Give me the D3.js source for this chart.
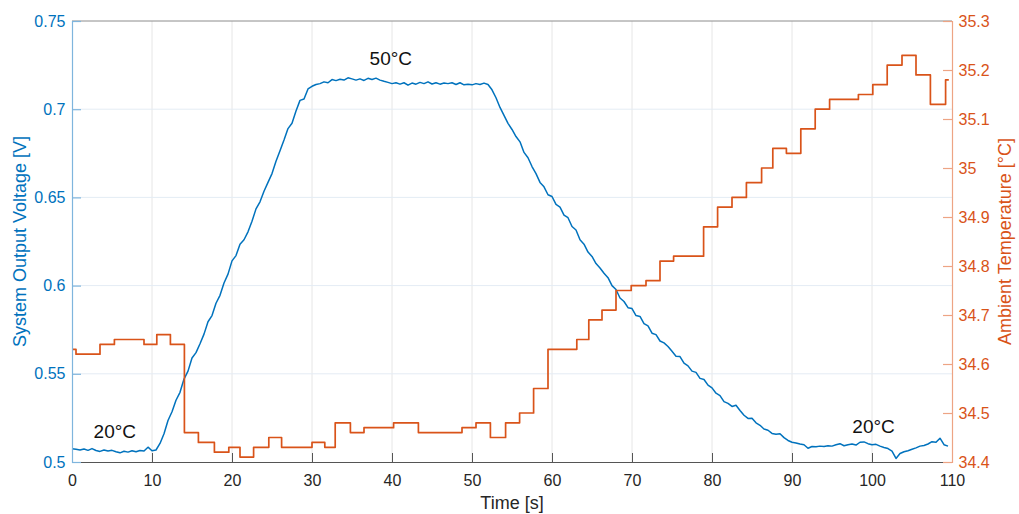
<!DOCTYPE html>
<html>
<head>
<meta charset="utf-8">
<script src="https://cdn.jsdelivr.net/npm/d3@7"></script>
<style>
  body { margin: 0; background: #fff; }
  svg { font-family: "Liberation Sans", Arial, sans-serif; }
</style>
</head>
<body>
<svg class="chart"></svg>
<script>
const size = { w: 1019, h: 514 };
const margin = { top: 21, right: 67, bottom: 52, left: 72 };

// voltage samples, one every 0.5 s starting at t = 0
const sampleStep = 0.5;
const voltage = [
  0.5075, 0.5072, 0.5068, 0.5074, 0.5066, 0.5076, 0.5065, 0.5060, 0.5068, 0.5062,
  0.5066, 0.5058, 0.5052, 0.5061, 0.5056, 0.5064, 0.5058, 0.5065, 0.5062, 0.5084,
  0.5064, 0.5068, 0.5105, 0.5160, 0.5235, 0.5285, 0.5350, 0.5395, 0.5470, 0.5515,
  0.5590, 0.5620, 0.5670, 0.5725, 0.5795, 0.5830, 0.5900, 0.5945, 0.6015, 0.6065,
  0.6140, 0.6170, 0.6235, 0.6260, 0.6305, 0.6365, 0.6435, 0.6475, 0.6535, 0.6585,
  0.6635, 0.6705, 0.6765, 0.6825, 0.6890, 0.6920, 0.6990, 0.7050, 0.7058, 0.7115,
  0.7130, 0.7140, 0.7145, 0.7155, 0.7150, 0.7168, 0.7162, 0.7170, 0.7165, 0.7178,
  0.7172, 0.7165, 0.7172, 0.7163, 0.7175, 0.7168, 0.7176, 0.7165, 0.7158, 0.7152,
  0.7145, 0.7150, 0.7142, 0.7150, 0.7136, 0.7148, 0.7142, 0.7152, 0.7145, 0.7155,
  0.7143, 0.7150, 0.7142, 0.7148, 0.7145, 0.7150, 0.7140, 0.7150, 0.7138, 0.7142,
  0.7138, 0.7145, 0.7140, 0.7148, 0.7140, 0.7110, 0.7065, 0.7010, 0.6965, 0.6920,
  0.6885, 0.6845, 0.6815, 0.6755, 0.6725, 0.6675, 0.6635, 0.6585, 0.6560, 0.6515,
  0.6505, 0.6460, 0.6445, 0.6400, 0.6385, 0.6335, 0.6315, 0.6260, 0.6235, 0.6190,
  0.6165, 0.6125, 0.6100, 0.6070, 0.6045, 0.6000, 0.5978, 0.5930, 0.5910, 0.5875,
  0.5870, 0.5830, 0.5825, 0.5785, 0.5772, 0.5730, 0.5722, 0.5686, 0.5675, 0.5655,
  0.5628, 0.5600, 0.5598, 0.5560, 0.5545, 0.5515, 0.5508, 0.5474, 0.5468, 0.5436,
  0.5420, 0.5390, 0.5376, 0.5342, 0.5332, 0.5315, 0.5322, 0.5292, 0.5265, 0.5247,
  0.5248, 0.5222, 0.5208, 0.5187, 0.5180, 0.5162, 0.5157, 0.5160, 0.5138, 0.5122,
  0.5112, 0.5108, 0.5102, 0.5098, 0.5078, 0.5088, 0.5086, 0.5090, 0.5088, 0.5092,
  0.5090, 0.5098, 0.5104, 0.5092, 0.5098, 0.5102, 0.5096, 0.5112, 0.5114, 0.5104,
  0.5098, 0.5100, 0.5090, 0.5082, 0.5076, 0.5062, 0.5020, 0.5048, 0.5058, 0.5064,
  0.5072, 0.5080, 0.5090, 0.5094, 0.5102, 0.5115, 0.5112, 0.5135, 0.5098, 0.5090
];

// ambient temperature: step changes (time of change, new value)
const tempTimes = [
  0, 0.5, 3.5, 5.3, 9.0, 10.6, 12.3, 14.05, 15.8, 17.8,
  19.6, 21.0, 22.7, 24.6, 26.2, 30.0, 31.6, 32.9, 34.8, 36.5,
  40.2, 43.3, 48.75, 50.5, 52.3, 54.2, 55.95, 57.7, 59.5, 63.1,
  64.6, 66.25, 68.0, 69.9, 71.75, 73.5, 75.2, 78.95, 80.7, 82.5,
  84.3, 86.2, 87.6, 89.3, 91.1, 92.9, 94.7, 98.3, 100.1, 101.9,
  103.75, 105.5, 107.3, 109.2, 109.6
];
const tempValues = [
  34.63, 34.62, 34.64, 34.65, 34.64, 34.66, 34.64, 34.46, 34.44, 34.42,
  34.43, 34.41, 34.43, 34.45, 34.43, 34.44, 34.43, 34.48, 34.46, 34.47,
  34.48, 34.46, 34.47, 34.48, 34.45, 34.48, 34.50, 34.55, 34.63, 34.65,
  34.69, 34.71, 34.75, 34.76, 34.77, 34.81, 34.82, 34.88, 34.92, 34.94,
  34.97, 35.00, 35.04, 35.03, 35.08, 35.12, 35.14, 35.15, 35.17, 35.21,
  35.23, 35.19, 35.13, 35.18, 35.18
];

const xTicks = [0, 10, 20, 30, 40, 50, 60, 70, 80, 90, 100, 110];
const leftTicks = [0.5, 0.55, 0.6, 0.65, 0.7, 0.75];
const rightTicks = [34.4, 34.5, 34.6, 34.7, 34.8, 34.9, 35, 35.1, 35.2, 35.3];

const notes = [
  { t: 5.35, v: 0.5136, label: "20°C" },
  { t: 39.85, v: 0.7249, label: "50°C" },
  { t: 100.2, v: 0.5165, label: "20°C" }
];

const blue = "#0072BD";
const orange = "#D95319";

const svg = d3.select("svg.chart").attr("width", size.w).attr("height", size.h);
const iw = size.w - margin.left - margin.right;
const ih = size.h - margin.top - margin.bottom;
const g = svg.append("g").attr("transform", `translate(${margin.left},${margin.top})`);

const x = d3.scaleLinear().domain([0, 110]).range([0, iw]);
const yL = d3.scaleLinear().domain([0.5, 0.75]).range([ih, 0]);
const yR = d3.scaleLinear().domain([34.4, 35.3]).range([ih, 0]);

// grid
g.append("g")
  .selectAll("line")
  .data(xTicks.slice(1, -1))
  .join("line")
  .attr("x1", (d) => x(d)).attr("x2", (d) => x(d))
  .attr("y1", 0).attr("y2", ih)
  .attr("stroke", "#e6e6e6").attr("stroke-width", 1);
g.append("g")
  .selectAll("line")
  .data(leftTicks.slice(1, -1))
  .join("line")
  .attr("x1", 0).attr("x2", iw)
  .attr("y1", (d) => yL(d)).attr("y2", (d) => yL(d))
  .attr("stroke", "#e4ecf4").attr("stroke-width", 1);

// box top
g.append("line").attr("x1", 0).attr("x2", iw).attr("y1", 0).attr("y2", 0)
  .attr("stroke", "#8c8c8c").attr("stroke-width", 1);

// lines
const voltData = voltage.map((v, i) => [i * sampleStep, v]);
g.append("path")
  .datum(voltData)
  .attr("fill", "none")
  .attr("stroke", blue)
  .attr("stroke-width", 1.5)
  .attr("stroke-linejoin", "round")
  .attr("d", d3.line().x((d) => x(d[0])).y((d) => yL(d[1])));

const tempData = tempTimes.map((t, i) => [t, tempValues[i]]);
g.append("path")
  .datum(tempData)
  .attr("fill", "none")
  .attr("stroke", orange)
  .attr("stroke-width", 1.7)
  .attr("stroke-linejoin", "round")
  .attr("d", d3.line().curve(d3.curveStepAfter).x((d) => x(d[0])).y((d) => yR(d[1])));

// axes
const tickLen = 9;
const xAxis = g.append("g").attr("transform", `translate(0,${ih})`)
  .call(d3.axisBottom(x).tickValues(xTicks).tickSize(-tickLen).tickPadding(12.5).tickFormat(d3.format("d")));
xAxis.select(".domain").attr("stroke", "#555").attr("stroke-width", 1);
xAxis.selectAll(".tick line").attr("stroke", "#555");
xAxis.selectAll("text").attr("fill", "#262626").style("font-size", "16px");

const lAxis = g.append("g")
  .call(d3.axisLeft(yL).tickValues(leftTicks).tickSize(-tickLen).tickPadding(6).tickFormat((d) => String(d)));
lAxis.select(".domain").attr("stroke", "#7fb5dd").attr("stroke-width", 1.2);
lAxis.selectAll(".tick line").attr("stroke", "#7fb5dd").attr("stroke-width", 1.2);
lAxis.selectAll("text").attr("fill", blue).style("font-size", "16px").attr("x", -6.5);

const rAxis = g.append("g").attr("transform", `translate(${iw},0)`)
  .call(d3.axisRight(yR).tickValues(rightTicks).tickSize(-tickLen).tickPadding(6).tickFormat((d) => String(d)));
rAxis.select(".domain").attr("stroke", "#eda484").attr("stroke-width", 1.2);
rAxis.selectAll(".tick line").attr("stroke", "#eda484").attr("stroke-width", 1.2);
rAxis.selectAll("text").attr("fill", orange).style("font-size", "16px").attr("x", 6.5);

// axis titles
g.append("text")
  .attr("x", iw / 2).attr("y", ih + 47)
  .attr("text-anchor", "middle")
  .attr("fill", "#262626").style("font-size", "18px")
  .text("Time [s]");
g.append("text")
  .attr("transform", `translate(-46,${ih / 2}) rotate(-90)`)
  .attr("text-anchor", "middle")
  .attr("fill", blue).style("font-size", "18px")
  .text("System Output Voltage [V]");
g.append("text")
  .attr("transform", `translate(${iw + 59},${ih / 2}) rotate(-90)`)
  .attr("text-anchor", "middle")
  .attr("fill", orange).style("font-size", "18px")
  .text("Ambient Temperature [°C]");

// annotations
g.append("g")
  .selectAll("text")
  .data(notes)
  .join("text")
  .attr("x", (d) => x(d.t)).attr("y", (d) => yL(d.v))
  .attr("text-anchor", "middle")
  .attr("fill", "#111")
  .style("font-size", "19px")
  .text((d) => d.label);
</script>
</body>
</html>
